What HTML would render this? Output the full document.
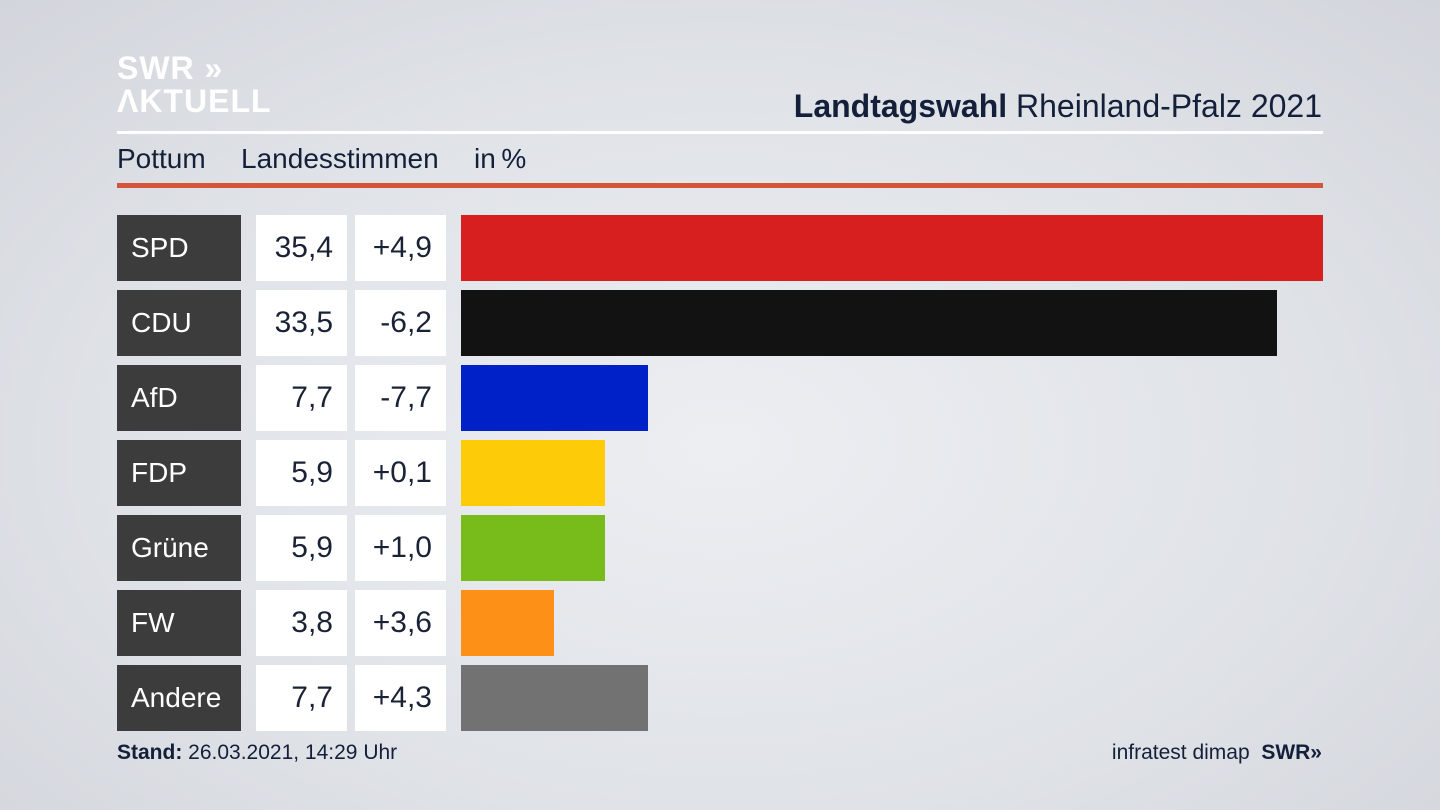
<!DOCTYPE html>
<html><head><meta charset="utf-8"><style>
body{margin:0;width:1440px;height:810px;overflow:hidden;font-family:"Liberation Sans","DejaVu Sans",sans-serif;background:radial-gradient(ellipse at 50% 55%,#eceef2 0%,#dfe2e7 60%,#d2d5db 100%);position:relative}
.abs{position:absolute}
.lab{background:#3c3c3c;color:#fff;font-size:28px;line-height:66px;padding-left:14px;box-sizing:border-box;width:124px;height:66px}
.val{background:#fff;color:#1a2235;font-size:30px;line-height:66px;text-align:right;padding-right:14px;box-sizing:border-box;height:66px}
</style></head><body>
<div class="abs" style="left:117px;top:52px;color:#fff;font-weight:bold;font-size:32px;line-height:33px;letter-spacing:1px">SWR &raquo;<br>&Lambda;KTUELL</div>
<div class="abs" style="right:118px;top:88px;font-size:32px;color:#14203a"><b>Landtagswahl</b> Rheinland-Pfalz 2021</div>
<div class="abs" style="left:117px;top:131px;width:1206px;height:3px;background:#fff"></div>
<div class="abs" style="left:117px;top:143px;font-size:28px;color:#14203a;word-spacing:4px">Pottum&nbsp;&nbsp; Landesstimmen&nbsp;&nbsp; in&thinsp;%</div>
<div class="abs" style="left:117px;top:183px;width:1206px;height:5px;background:#d5553a"></div>
<div id="rows"></div>
<div class="abs" style="left:117px;top:741px;font-size:21px;color:#14203a"><b>Stand:</b> 26.03.2021, 14:29 Uhr</div>
<div class="abs" style="right:118px;top:741px;font-size:21px;color:#14203a">infratest dimap&nbsp; <b>SWR&raquo;</b></div>
<script>
const parties=["SPD","CDU","AfD","FDP","Grüne","FW","Andere"];
const values=[35.4,33.5,7.7,5.9,5.9,3.8,7.7];
const changes=["+4,9","-6,2","-7,7","+0,1","+1,0","+3,6","+4,3"];
const colors=["#d71f1f","#121212","#0021c8","#fecb09","#78bc1b","#fd9017","#727272"];
const x0=461,scale=862/35.4,top0=215,pitch=75;
const c=document.getElementById('rows');
function mk(name,cls,style,text){const d=document.createElement('div');d.className='abs '+cls;


d.style.cssText=style;if(text!==undefined)d.textContent=text;c.appendChild(d);}
parties.forEach((p,i)=>{const y=top0+i*pitch;const k=p.toLowerCase();
mk('party-label-'+k,'lab','left:117px;top:'+y+'px',p);
mk('value-'+k,'val','left:256px;top:'+y+'px;width:91px',values[i].toFixed(1).replace('.',','));
mk('change-'+k,'val','left:355px;top:'+y+'px;width:91px',changes[i]);
mk('bar-'+k,'','left:'+x0+'px;top:'+y+'px;height:66px;width:'+(values[i]*scale)+'px;background:'+colors[i]);
});
</script>
</body></html>
